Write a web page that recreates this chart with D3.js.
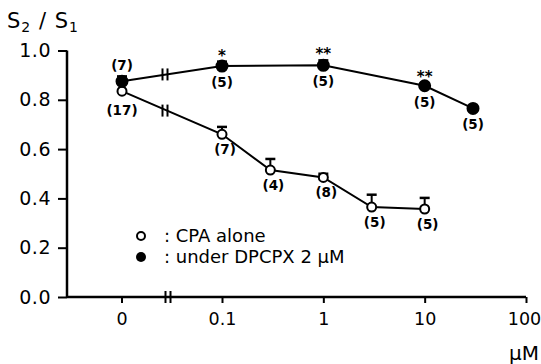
<!DOCTYPE html>
<meta charset="utf-8">
<script src="https://cdn.jsdelivr.net/npm/d3@7"></script>
<style>
body { margin: 0; background: #fff; }
text { font-family: "DejaVu Sans", Verdana, sans-serif; fill: #000; }
.lbl { font-size: 13.5px; font-weight: bold; }
.ytick text { font-size: 19px; letter-spacing: 0.5px; }
.xtick text { font-size: 17.5px; }
</style>
<body>
<script>

// concentrations (uM), 0 = control
var cpaDose  = [0, 0.1, 0.3, 1, 3, 10];
var cpaMean  = [0.835, 0.66, 0.515, 0.485, 0.365, 0.357];
var cpaErr   = [0.0, 0.03, 0.045, 0.015, 0.05, 0.045];
var cpaN     = ["(17)", "(7)", "(4)", "(8)", "(5)", "(5)"];

var dpDose   = [0, 0.1, 1, 10, 30];
var dpMean   = [0.875, 0.937, 0.94, 0.857, 0.765];
var dpErr    = [0.02, 0.018, 0.02, 0.01, 0.0];
var dpN      = ["(7)", "(5)", "(5)", "(5)", "(5)"];
var dpStars  = ["", "*", "**", "**", ""];

var yTicks = [0, 0.2, 0.4, 0.6, 0.8, 1.0];
var xTicks = [0.1, 1, 10, 100];

var width = 541, height = 364;

var svg = d3.select("body").append("svg")
    .attr("width", width)
    .attr("height", height);

var y = d3.scaleLinear().domain([0, 1]).range([297, 50.5]);
var xLog = d3.scaleLog().domain([0.1, 100]).range([222, 526]);
var zeroX = 122, breakX = 167;
function x(d) { return d === 0 ? zeroX : xLog(d); }

// y axis
var yAxis = svg.append("g")
    .attr("class", "ytick")
    .attr("transform", "translate(67,0)")
    .call(d3.axisLeft(y).tickValues(yTicks).tickFormat(d3.format(".1f")).tickSize(9).tickPadding(7));
yAxis.select(".domain").attr("stroke-width", 2.5).attr("d", "M0,297V50.5");
yAxis.selectAll(".tick line").attr("stroke-width", 2);

// x axis: log part
var xAxis = svg.append("g")
    .attr("class", "xtick")
    .attr("transform", "translate(0,297)")
    .call(d3.axisBottom(xLog).tickValues(xTicks).tickFormat(d3.format("")).tickSize(6).tickPadding(10));
xAxis.select(".domain").attr("stroke-width", 2.5).attr("d", "M67,0H526");
xAxis.selectAll(".tick line").attr("stroke-width", 2);
xAxis.selectAll(".tick text").filter(function(d) { return d === 100; }).attr("dx", -2);

// zero tick
var zt = xAxis.append("g").attr("class", "tick").attr("transform", "translate(" + zeroX + ",0)");
zt.append("line").attr("y2", 6).attr("stroke", "#000").attr("stroke-width", 2);
zt.append("text").attr("y", 16).attr("dy", "0.71em").attr("text-anchor", "middle").text("0");

// axis break marks
function breakMark(cx, cy) {
  var g = svg.append("g");
  [-2.5, 2.5].forEach(function(o) {
    g.append("line").attr("x1", cx + o).attr("x2", cx + o)
      .attr("y1", cy - 6).attr("y2", cy + 6)
      .attr("stroke", "#000").attr("stroke-width", 2);
  });
}
breakMark(breakX + 1, 297);

function series(dose, mean, err, filled) {
  var pts = dose.map(function(d, i) { return {d: d, m: mean[i], e: err[i]}; });
  var line = d3.line().x(function(p) { return x(p.d); }).y(function(p) { return y(p.m); });
  svg.append("path").datum(pts).attr("d", line)
    .attr("fill", "none").attr("stroke", "#000").attr("stroke-width", 2);
  // break on the first segment
  var yb = y(mean[0]) + (y(mean[1]) - y(mean[0])) * (breakX - x(dose[0])) / (x(dose[1]) - x(dose[0]));
  breakMark(breakX - 2, yb);
  // error bars
  pts.forEach(function(p) {
    if (p.e <= 0) return;
    var cx = x(p.d), y1 = y(p.m), y2 = y(p.m + p.e);
    svg.append("line").attr("x1", cx).attr("x2", cx).attr("y1", y1).attr("y2", y2)
      .attr("stroke", "#000").attr("stroke-width", 2);
    svg.append("line").attr("x1", cx - 5).attr("x2", cx + 5).attr("y1", y2).attr("y2", y2)
      .attr("stroke", "#000").attr("stroke-width", 2.5);
  });
  svg.append("g").selectAll("circle").data(pts).enter().append("circle")
    .attr("cx", function(p) { return x(p.d); })
    .attr("cy", function(p) { return y(p.m); })
    .attr("r", filled ? 5.5 : 4.5)
    .attr("fill", filled ? "#000" : "#fff")
    .attr("stroke", "#000").attr("stroke-width", 2);
}

series(cpaDose, cpaMean, cpaErr, false);
series(dpDose, dpMean, dpErr, true);

// n labels
cpaDose.forEach(function(d, i) {
  svg.append("text").attr("class", "lbl").attr("text-anchor", "middle")
    .attr("x", x(d) + (i === 0 ? 0 : 3)).attr("y", y(cpaMean[i]) + (i === 0 ? 24 : 20))
    .text(cpaN[i]);
});
dpDose.forEach(function(d, i) {
  var cy = y(dpMean[i]);
  svg.append("text").attr("class", "lbl").attr("text-anchor", "middle")
    .attr("x", x(d)).attr("y", i === 0 ? cy - 11 : cy + 21)
    .text(dpN[i]);
  if (dpStars[i]) {
    svg.append("text").attr("text-anchor", "middle").attr("font-weight", "bold")
      .attr("fill", "#000").attr("font-size", 15)
      .attr("x", x(d)).attr("y", y(dpMean[i] + dpErr[i]) - 1)
      .text(dpStars[i]);
  }
});

// y title
var t = svg.append("text").attr("x", 7).attr("y", 28).attr("font-size", 21).attr("letter-spacing", 1);
t.append("tspan").text("S");
t.append("tspan").attr("font-size", 14).attr("dy", 4).text("2");
t.append("tspan").attr("dy", -4).text(" / S");
t.append("tspan").attr("font-size", 14).attr("dy", 4).text("1");

// unit
svg.append("text").attr("x", 539).attr("y", 360).attr("text-anchor", "end").attr("font-size", 20).text("\u03bcM");

// legend
var lg = svg.append("g").attr("transform", "translate(141,236)");
lg.append("circle").attr("r", 4).attr("fill", "#fff").attr("stroke", "#000").attr("stroke-width", 2);
lg.append("text").attr("x", 23).attr("y", 6).attr("font-size", 18).text(":  CPA alone");
lg.append("circle").attr("cy", 21).attr("r", 5).attr("fill", "#000");
lg.append("text").attr("x", 23).attr("y", 27).attr("font-size", 18).text(":  under DPCPX 2 \u03bcM");

</script>
</body>
